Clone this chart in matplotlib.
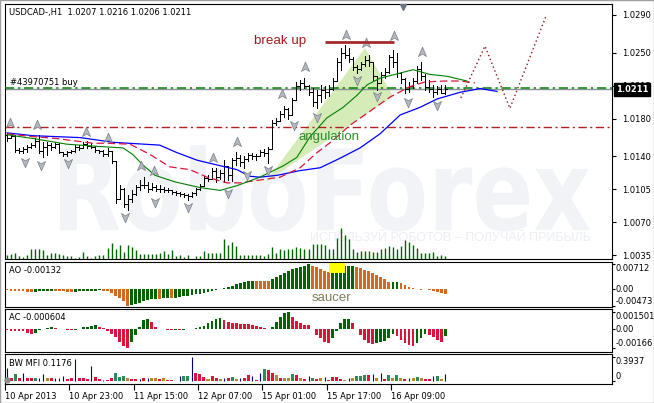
import matplotlib
matplotlib.use("Agg")
import matplotlib.pyplot as plt
import numpy as np
from matplotlib.path import Path
from matplotlib.patches import PathPatch, Polygon, Rectangle
from matplotlib.textpath import TextPath
from matplotlib.font_manager import FontProperties
from matplotlib.transforms import Affine2D, blended_transform_factory as blend

plt.rcParams['font.family'] = ['DejaVu Sans']
W, H = 654, 403
LW = 0.72  # ~1 px

# ---- USDCAD H1 bars, oldest first
first_open = 1.0163
close = [1.0160,1.0162,1.0147,1.0146,1.0148,1.0150,1.0152,1.0156,1.0146,1.0150,
         1.0152,1.0150,1.0153,1.0145,1.0143,1.0145,1.0146,1.0150,1.0149,1.0153,
         1.0151,1.0150,1.0147,1.0146,1.0143,1.0146,1.0135,1.0095,1.0105,1.0090,
         1.0095,1.0100,1.0108,1.0110,1.0110,1.0106,1.0108,1.0105,1.0106,1.0104,
         1.0104,1.0102,1.0101,1.0100,1.0099,1.0098,1.0101,1.0105,1.0109,1.0117,
         1.0116,1.0125,1.0118,1.0122,1.0130,1.0120,1.0136,1.0138,1.0134,1.0137,
         1.0142,1.0140,1.0141,1.0145,1.0144,1.0148,1.0175,1.0178,1.0185,1.0190,
         1.0184,1.0200,1.0215,1.0218,1.0215,1.0208,1.0198,1.0205,1.0210,1.0208,
         1.0212,1.0220,1.0240,1.0250,1.0248,1.0243,1.0235,1.0233,1.0238,1.0242,
         1.0240,1.0225,1.0218,1.0226,1.0230,1.0245,1.0240,1.0228,1.0222,1.0212,
         1.0215,1.0220,1.0233,1.0225,1.0214,1.0212,1.0208,1.0212,1.0207,1.0211]
high = [1.0165,1.0165,1.0163,1.0149,1.0150,1.0152,1.0154,1.0160,1.0163,1.0155,
        1.0155,1.0154,1.0155,1.0154,1.0145,1.0146,1.0147,1.0152,1.0152,1.0155,
        1.0156,1.0154,1.0151,1.0147,1.0147,1.0149,1.0145,1.0134,1.0110,1.0107,
        1.0099,1.0104,1.0110,1.0115,1.0118,1.0113,1.0112,1.0110,1.0110,1.0108,
        1.0107,1.0104,1.0103,1.0102,1.0101,1.0100,1.0102,1.0107,1.0111,1.0119,
        1.0120,1.0128,1.0128,1.0126,1.0136,1.0128,1.0138,1.0145,1.0142,1.0140,
        1.0144,1.0144,1.0143,1.0147,1.0148,1.0150,1.0179,1.0181,1.0188,1.0193,
        1.0191,1.0202,1.0219,1.0221,1.0223,1.0216,1.0213,1.0210,1.0216,1.0215,
        1.0216,1.0223,1.0244,1.0255,1.0258,1.0255,1.0245,1.0237,1.0240,1.0247,
        1.0248,1.0237,1.0223,1.0230,1.0234,1.0248,1.0253,1.0250,1.0230,1.0223,
        1.0219,1.0223,1.0236,1.0240,1.0227,1.0221,1.0216,1.0215,1.0216,1.0216]
low = [1.0156,1.0160,1.0145,1.0144,1.0144,1.0145,1.0149,1.0150,1.0144,1.0139,
       1.0142,1.0147,1.0149,1.0144,1.0141,1.0141,1.0144,1.0145,1.0147,1.0149,
       1.0149,1.0149,1.0145,1.0144,1.0141,1.0141,1.0133,1.0091,1.0102,1.0086,
       1.0083,1.0092,1.0099,1.0104,1.0107,1.0102,1.0104,1.0103,1.0102,1.0102,
       1.0102,1.0100,1.0099,1.0098,1.0097,1.0094,1.0097,1.0099,1.0104,1.0111,
       1.0114,1.0117,1.0113,1.0116,1.0113,1.0115,1.0114,1.0131,1.0130,1.0128,
       1.0135,1.0137,1.0136,1.0140,1.0140,1.0133,1.0148,1.0173,1.0179,1.0182,
       1.0180,1.0184,1.0200,1.0210,1.0213,1.0205,1.0193,1.0191,1.0198,1.0202,
       1.0204,1.0210,1.0221,1.0232,1.0244,1.0240,1.0232,1.0228,1.0232,1.0236,
       1.0236,1.0221,1.0210,1.0219,1.0223,1.0228,1.0235,1.0224,1.0218,1.0207,
       1.0208,1.0213,1.0218,1.0221,1.0210,1.0208,1.0203,1.0206,1.0207,1.0206]
vol = [130,160,190,90,60,130,310,310,310,280,
       110,190,190,160,130,80,80,40,60,210,
       90,20,90,110,110,330,490,310,410,210,
       430,360,260,160,160,160,160,160,190,240,
       160,260,80,110,60,110,10,90,90,230,
       190,190,190,190,590,410,510,390,130,130,
       110,110,110,110,90,160,360,190,290,260,
       290,310,360,340,310,290,460,460,460,410,
       310,310,630,930,710,590,290,210,230,230,
       230,210,210,310,340,390,360,310,390,560,
       510,410,340,180,180,190,210,90,130,100]

# ---- Alligator lines (bar index, price)
jaw_x = [0,6.5,18.2,26.4,38,42.3,47.3,52.2,57.2,60.4,62.9,67.2,72.9,77.9,82.8,87.8,92.8,97.8,102.7,107,112.7,117.7,121.9]
jaw_y = [1.0165,1.0162,1.0160,1.0155,1.0152,1.0144,1.0136,1.0131,1.0126,1.0119,1.0118,1.0120,1.0125,1.0128,1.0138,1.0149,1.0164,1.0184,1.0192,1.0201,1.0208,1.0212,1.0209]
teeth_x = [0,6.5,12.4,21.4,24.9,30.6,35.6,40.5,45.5,49.8,54.7,58,62.9,67.9,72.9,77.1,81.1,85.3,90.3,95.3,100.2,104,109,112.7,116.4]
teeth_y = [1.0164,1.0161,1.0159,1.0154,1.0154,1.0153,1.0142,1.0129,1.0126,1.0118,1.0112,1.0112,1.0115,1.0118,1.0128,1.0144,1.0157,1.0173,1.0188,1.0203,1.0214,1.0219,1.0220,1.0220,1.0218]
lips_x = [0,6.5,14.9,21.4,28.9,31.3,33.8,36.8,41.8,48,53,57.2,62.9,68.7,72.1,75.4,79.6,83.6,87.1,89.6,92.8,96.5,101,105.2,109.5,114.4]
lips_y = [1.0163,1.0159,1.0153,1.0151,1.0149,1.0142,1.0131,1.0120,1.0113,1.0107,1.0104,1.0109,1.0118,1.0130,1.0139,1.0161,1.0181,1.0192,1.0205,1.0216,1.0223,1.0227,1.0232,1.0227,1.0225,1.0220]

# ---- fractals
up_x = [0.7,7.5,19.7,25.1,33.3,36.6,51.2,57.2,68.4,74.1,84.3,89.3,96.3,103.2]
up_y = [1.0175,1.0173,1.0166,1.0160,1.0130,1.0125,1.0138,1.0155,1.0206,1.0235,1.0269,1.0260,1.0268,1.0251]
dn_x = [4.5,8.5,15.2,29.4,36.8,45.0,55.0,59.7,64.9,71.4,77.1,87.1,92.0,99.8,107.0]
dn_y = [1.0134,1.0131,1.0133,1.0076,1.0092,1.0086,1.0101,1.0120,1.0126,1.0173,1.0182,1.0221,1.0204,1.0198,1.0195]

# ---- drawings
fc_x = [112.9,118.9,125.1,134.1]
fc_y = [1.0202,1.0257,1.0191,1.0289]
ang_x = [64.4,89.05,96.0]
ang_y = [1.0113,1.0255,1.0204]
bu_x = [79.1,96.3]
bu_y = 1.0261
bid = 1.0211
order_price = 1.02125
stop_price = 1.0171
price_ticks = [1.0290,1.0250,1.0215,1.0180,1.0140,1.0105,1.0070,1.0035]

# ---- indicators
ao = [-0.0003,-0.00035,-0.0004,-0.00045,-0.0005,-0.0007,-0.0008,-0.0007,-0.0006,-0.00058,
      -0.00055,-0.0005,-0.00052,-0.00055,-0.0006,-0.00065,-0.0007,-0.00068,-0.0006,-0.00052,
      -0.00045,-0.0004,-0.00035,-0.0003,-0.00035,-0.0006,-0.0011,-0.0018,-0.0025,-0.0033,
      -0.00473,-0.0045,-0.0042,-0.0038,-0.0034,-0.0031,-0.0029,-0.0027,-0.0028,-0.0026,
      -0.0025,-0.0026,-0.0024,-0.0022,-0.0020,-0.0018,-0.0016,-0.0014,-0.0012,-0.0010,
      -0.0008,-0.0006,-0.0003,0.0001,0.0004,0.0007,0.0010,0.0014,0.0017,0.0020,
      0.0023,0.0025,0.00248,0.00245,0.00242,0.0024,0.0029,0.0035,0.0041,0.0047,
      0.0053,0.0057,0.0061,0.0065,0.0068,0.00712,0.0068,0.0064,0.0059,0.0053,
      0.0049,0.0051,0.0059,0.0064,0.0066,0.0067,0.0068,0.0065,0.0061,0.0056,
      0.0051,0.0047,0.0042,0.0036,0.0030,0.0020,0.0021,0.0022,0.0017,0.0012,
      0.0007,0.0003,0.0001,-0.0001,0.0000,-0.0002,-0.0004,-0.0007,-0.0010,-0.00132]
ac = [-0.0001,-0.00012,-0.00014,-0.00016,-0.0002,-0.0003,-0.0004,-0.0003,-0.0001,0.0,
      0.0001,0.00015,0.0001,0.00005,0.0,-0.00005,-0.0001,-0.00005,0.00005,0.00015,
      0.0002,0.0003,0.00035,0.0002,0.0001,-0.0002,-0.0004,-0.0007,-0.0011,-0.0015,
      -0.00166,-0.0011,-0.0005,0.0002,0.0008,0.0009,0.0006,0.0002,0.00005,0.0,
      -0.00003,-0.00005,-0.00004,-0.00006,-0.00005,0.0,0.00005,0.0001,0.00015,0.0003,
      0.0005,0.0007,0.0009,0.0010,0.0008,0.0006,0.00055,0.0005,0.00048,0.00046,
      0.00044,0.0004,0.0003,0.0002,0.0001,0.00005,0.0002,0.0006,0.0011,0.0014,
      0.001501,0.0011,0.0007,0.0005,0.0004,0.00035,0.0,-0.0005,-0.0008,-0.0011,
      -0.0012,-0.0008,-0.0002,0.0005,0.0009,0.00092,0.0005,0.0,-0.0005,-0.0009,
      -0.0012,-0.0013,-0.0012,-0.0011,-0.0010,-0.0008,-0.0004,-0.0006,-0.0009,-0.0012,
      -0.0014,-0.0015,-0.0012,-0.0008,-0.0004,-0.0005,-0.0007,-0.0009,-0.0011,-0.000604]
mfi = [0.21,0.045,0.115,0.055,0.13,0.055,0.05,0.055,0.055,0.11,
       0.055,0.045,0.045,0.045,0.08,0.03,0.055,0.355,0.045,0.055,
       0.035,0.245,0.07,0.03,0.012,0.012,0.045,0.135,0.07,0.08,
       0.055,0.03,0.03,0.03,0.055,0.045,0.045,0.045,0.035,0.045,
       0.012,0.012,0.006,0.08,0.08,0.08,0.3937,0.135,0.11,0.065,
       0.03,0.08,0.055,0.03,0.045,0.055,0.07,0.03,0.055,0.05,
       0.093,0.08,0.016,0.135,0.2,0.18,0.135,0.093,0.055,0.045,
       0.045,0.11,0.1,0.045,0.04,0.08,0.055,0.03,0.045,0.065,
       0.016,0.065,0.065,0.03,0.016,0.055,0.055,0.08,0.08,0.1,
       0.1,0.11,0.055,0.135,0.035,0.1,0.045,0.1,0.045,0.03,
       0.05,0.055,0.065,0.055,0.035,0.03,0.08,0.08,0.03,0.1176]
mfi_kind = ("brgrbrrgbb" "yrbbbrrbrr" "rbrrbrrggg" "yrrbrbyyry" "rrrbggbrrr"
            "yrrybrgybr" "rbrbgrryry" "ygryrbgryb" "rrrrybyggg" "rbybrgygyr" "bygyrrbgyb")
date_bars = [0,16,32,48,64,80,96]
date_labels = ["10 Apr 2013","10 Apr 23:00","11 Apr 15:00","12 Apr 07:00",
               "15 Apr 01:00","15 Apr 17:00","16 Apr 09:00"]

n = len(close)
x = np.arange(n)
close = np.array(close)
opn = np.r_[first_open, close[:-1]]
high = np.maximum(np.array(high), np.maximum(opn, close))
low = np.minimum(np.array(low), np.minimum(opn, close))

fig = plt.figure(figsize=(W/100, H/100), dpi=100)
fig.patch.set_facecolor('white')


def panel(l, t, r, b):
    a = fig.add_axes([l/W, 1-b/H, (r-l)/W, (b-t)/H])
    for s in a.spines.values():
        s.set_linewidth(0.8)
    a.set_xlim(-0.5, 150.5)
    a.set_xticks([])
    return a


# ================= main chart
ax = panel(5, 4, 612, 259)
ax.set_ylim(1.003125, 1.030166)
ax.yaxis.tick_right()
ax.set_yticks(price_ticks)
ax.set_yticklabels([f"{v:.4f}" for v in price_ticks])
ax.tick_params(axis='y', length=3, width=0.8, pad=4, labelsize=6, direction='out')

# watermark
fp = FontProperties(family='DejaVu Sans', weight='bold')
tp = TextPath((0, 0), "RoboForex", size=1, prop=fp)
e = tp.get_extents()
sx = (145 - 13.2) / e.width
sy = (1.0152 - 1.0062) / e.y1
tr = Affine2D().translate(-e.x0, 0).scale(sx, sy).translate(13.2, 1.0062) + ax.transData
ax.add_patch(PathPatch(tp, transform=tr, fc='#f1f3f7', ec='none', zorder=0))
ax.text(110.4, 1.00535, "ИСПОЛЬЗУЙ РОБОТОВ – ПОЛУЧАЙ ПРИБЫЛЬ", fontsize=9,
        family='Liberation Sans', color='#eceef3', ha='center', va='center', zorder=0)

# angulation wedge
ax.add_patch(Polygon(list(zip(ang_x, ang_y)), closed=True, fc='#d5ebb8', ec='none', zorder=1))

# levels
ax.axhline(stop_price, color='#b22222', lw=1, ls=(0, (6, 2.5, 1.5, 2.5)), zorder=2)
ax.axhline(bid, color='#8a9098', lw=1, zorder=2)
ax.axhline(order_price, color='#008000', lw=1.1, ls=(0, (6, 2.5, 1.5, 2.5)), zorder=3)

# volumes along the bottom
vtr = blend(ax.transData, ax.transAxes)
ax.vlines(x, 0, np.array(vol) / 7650, transform=vtr, color='#006400', lw=1.0, zorder=2)

# bars
ax.vlines(x, low, high, color='black', lw=LW, antialiased=False, zorder=4)
ax.hlines(opn, x - 0.4, x, color='black', lw=LW, antialiased=False, zorder=4)
ax.hlines(close, x, x + 0.4, color='black', lw=LW, antialiased=False, zorder=4)

# alligator
ax.plot(jaw_x, jaw_y, color='#0000ff', lw=0.9, zorder=5)
ax.plot(teeth_x, teeth_y, color='#dc143c', lw=0.9, ls=(0, (6, 3)), zorder=5)
ax.plot(lips_x, lips_y, color='#008000', lw=0.8, zorder=5)

# fractals
up_m = Path([(0, 1), (0.75, -0.75), (0, -0.3), (-0.75, -0.75), (0, 1)],
            [Path.MOVETO, Path.LINETO, Path.LINETO, Path.LINETO, Path.CLOSEPOLY])
dn_m = Path([(0, -1), (0.75, 0.75), (0, 0.3), (-0.75, 0.75), (0, -1)],
            [Path.MOVETO, Path.LINETO, Path.LINETO, Path.LINETO, Path.CLOSEPOLY])
ax.scatter(up_x, up_y, marker=up_m, s=60, c='#b4b8c0', edgecolors='#7a7f87', linewidths=0.5, zorder=6)
ax.scatter(dn_x, dn_y, marker=dn_m, s=60, c='#b4b8c0', edgecolors='#7a7f87', linewidths=0.5, zorder=6)

# break up / forecast
ax.plot(bu_x, [bu_y, bu_y], color='#a52a2a', lw=2, solid_capstyle='butt', zorder=6)
ax.plot(fc_x, fc_y, color='#8b1a1a', lw=1, ls=(0, (1, 2)), zorder=6)
ax.text(61.4, 1.02619, "break up", fontsize=9.6, family='Liberation Sans',
        color='#a31a1a', ha='left', va='center', zorder=7)
ax.text(72.4, 1.01606, "angulation", fontsize=9.5, family='Liberation Sans',
        color='#2e8b2e', ha='left', va='center', zorder=7)

ax.text(4/607, 0.966, "USDCAD-,H1  1.0207 1.0216 1.0206 1.0211", transform=ax.transAxes,
        fontsize=6, ha='left', va='center', zorder=8)
ax.text(5/607, 1.02184, "#43970751 buy", transform=blend(ax.transAxes, ax.transData),
        fontsize=6, ha='left', va='center', zorder=8)
ax.text(1.006, bid, f"{bid:.4f}", transform=blend(ax.transAxes, ax.transData),
        color='white', fontsize=6, fontweight='bold', ha='left', va='center',
        bbox=dict(boxstyle='square,pad=0.25', fc='black', ec='black'), clip_on=False, zorder=20)
ax.plot(98.5, 0.99, marker='v', ms=5, color='#6a7684', transform=blend(ax.transData, ax.transAxes),
        clip_on=False, zorder=8)


def side_labels(a, vals, fmts, vas):
    a.yaxis.tick_right()
    a.set_yticks(vals)
    a.tick_params(axis='y', length=2, width=0.8, labelright=False, direction='out')
    t = blend(a.transAxes, a.transData)
    for v, f, va in zip(vals, fmts, vas):
        a.text(1.006, v, f, transform=t, fontsize=6, ha='left', va=va, clip_on=False)


# ================= AO
aox = panel(5, 262, 612, 307)
aox.set_ylim(-0.00506, 0.00781)
ao_col = ['#006400' if i > 0 and ao[i] > ao[i-1] else '#d2691e' for i in range(n)]
aox.bar(x, ao, width=0.7, color=ao_col, linewidth=0, zorder=2)
aox.add_patch(Rectangle((80.1, 0.0047), 4.0, 0.0028, fc='#ffff00', ec='none', zorder=4))
aox.text(80.6, -0.0025, "saucer", fontsize=9.5, family='Liberation Sans', color='#7c7c5c',
         ha='center', va='center', zorder=5)
aox.text(4/607, 0.82, f"AO {ao[-1]:.5f}", transform=aox.transAxes, fontsize=6, va='center')
side_labels(aox, [0.00712, 0.0, -0.00473], ["0.00712", "0.00", "-0.00473"], ['top', 'center', 'bottom'])

# ================= AC
acx = panel(5, 309, 612, 352)
acx.set_ylim(-0.00199, 0.00176)
ac_col = ['#006400' if i > 0 and ac[i] > ac[i-1] else '#dc143c' for i in range(n)]
acx.bar(x, ac, width=0.7, color=ac_col, linewidth=0, zorder=2)
acx.text(4/607, 0.81, f"AC {ac[-1]:.6f}", transform=acx.transAxes, fontsize=6, va='center')
side_labels(acx, [0.001501, 0.0, -0.00166], ["0.001501", "0.00", "-0.00166"], ['top', 'center', 'bottom'])

# ================= BW MFI
mfx = panel(5, 354, 612, 384)
mfx.set_ylim(-0.049, 0.443)
kind_col = {'g': '#2e8b57', 'r': '#dc143c', 'y': '#b8862b', 'b': '#00008b'}
mfi = np.array(mfi)
for k, c in kind_col.items():
    idx = np.array([i for i in range(n) if mfi_kind[i] == k])
    if k == 'b':
        mfx.vlines(idx, 0, mfi[idx], color=c, lw=0.8, zorder=2)
    else:
        mfx.bar(idx, mfi[idx], width=0.75, color=c, linewidth=0, zorder=2)
mfx.plot(-0.1, 0.01, 'o', ms=3.5, color='#8c8c8c', zorder=3, clip_on=False)
mfx.text(4/607, 0.7, f"BW MFI {mfi[-1]:.4f}", transform=mfx.transAxes, fontsize=6, va='center')
side_labels(mfx, [0.3937, 0.0], ["0.3937", "0"], ['top', 'bottom'])

mfx.set_xticks([b - 0.5 for b in date_bars])
mfx.set_xticklabels(date_labels, ha='left', fontsize=6)
mfx.tick_params(axis='x', length=4, width=0.8, pad=1.5, direction='out')

fig.patches.append(Rectangle((0, 0), 1, 1, transform=fig.transFigure, fill=False,
                             ec='#a0a0a0', lw=1))

fig.savefig('out.png', dpi=100, facecolor='white')
